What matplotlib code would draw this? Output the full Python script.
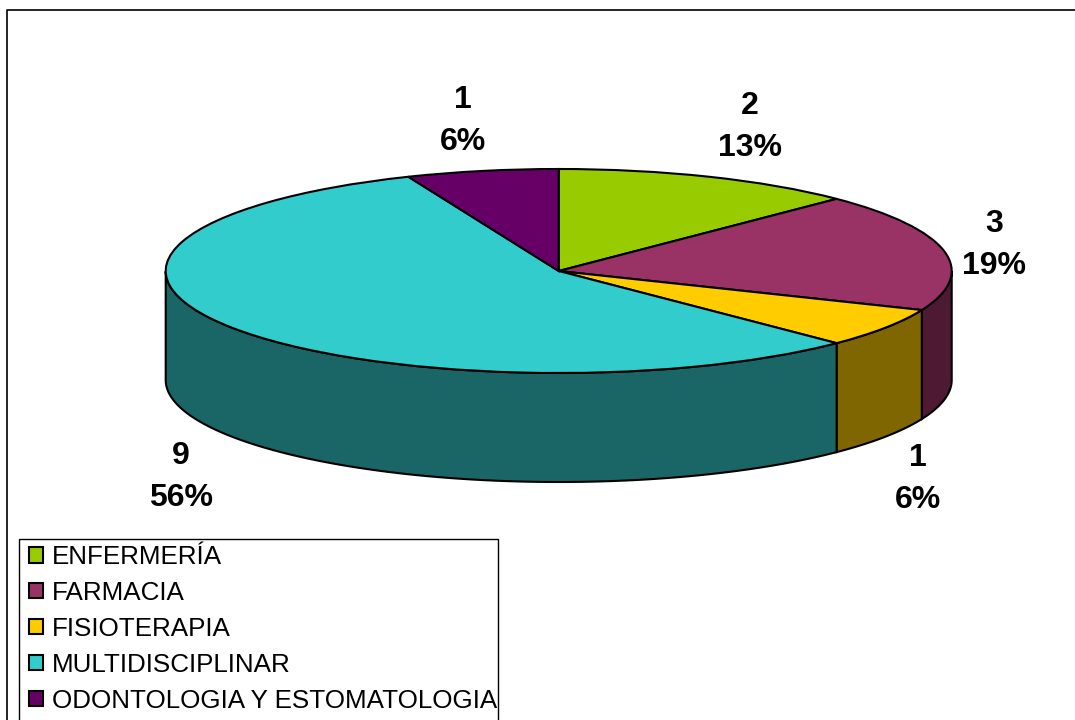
import numpy as np
import matplotlib
matplotlib.use("Agg")
import matplotlib.pyplot as plt
from matplotlib.patches import Rectangle

plt.rcParams['font.family'] = ['Liberation Sans', 'DejaVu Sans']

categories = ["ENFERMERÍA", "FARMACIA", "FISIOTERAPIA", "MULTIDISCIPLINAR",
              "ODONTOLOGIA Y ESTOMATOLOGIA"]
values = [2, 3, 1, 9, 1]
top_colors = ["#99CC00", "#993366", "#FFCC00", "#33CCCC", "#660066"]
side_colors = ["#4D6600", "#4D1933", "#806600", "#1A6666", "#330033"]

W, H = 1075, 720
cx, cy = 558.7, 271   # pie centre in pixels
rx, ry = 393, 102
depth = 109 / ry

fig = plt.figure(figsize=(W / 100, H / 100), dpi=100)
ax = fig.add_axes([0, 0, 1, 1])

wedges, _ = ax.pie(values, startangle=90, counterclock=False, radius=1,
                   colors=top_colors,
                   wedgeprops=dict(edgecolor="black", linewidth=1.5, zorder=3))
ax.set_aspect("auto")
ax.set_xlim(-cx / rx, (W - cx) / rx)
ax.set_ylim((cy - H) / ry, cy / ry)
ax.axis("off")

# side wall, only the part of each slice on the front half
for wedge, col in zip(wedges, side_colors):
    t = np.radians(np.linspace(wedge.theta1, wedge.theta2, 300))
    t = t[np.sin(t) <= 0]
    if len(t) == 0:
        continue
    xs = np.cos(t)
    ys = np.sin(t)
    ax.fill(np.r_[xs, xs[::-1]], np.r_[ys, ys[::-1] - depth],
            facecolor=col, edgecolor="black", linewidth=1.5, zorder=2)

# overlay in pixel coordinates for frame, labels and legend
px = fig.add_axes([0, 0, 1, 1])
px.set_xlim(0, W)
px.set_ylim(H, 0)
px.axis("off")

# outer border: only top and left show in the picture
px.plot([7, 7, W], [H, 9.5, 9.5], color="black", linewidth=1.2)

total = sum(values)
label_pos = [(750, 127), (994, 245), (918, 479), (181, 477), (463, 121)]
for v, (x, y) in zip(values, label_pos):
    pct = int(100 * v / total + 0.5)
    px.text(x, y, f"{v}\n{pct}%", ha="center", va="center", fontsize=23,
            fontweight="bold", linespacing=1.48, color="black")

# legend box runs off the bottom of the picture
px.add_patch(Rectangle((19, 538.5), 479, 200, fill=False, edgecolor="black",
                       linewidth=1.0))
leg = px.legend(wedges, categories, loc="upper left",
                bbox_to_anchor=(29 / W, 1 - 545 / H), borderaxespad=0,
                fontsize=18.7, frameon=False, borderpad=0, labelspacing=0.46,
                handlelength=0.54, handleheight=0.54, handletextpad=0.35)
for h in leg.legend_handles:
    h.set_linewidth(1.5)

fig.savefig("out.png", dpi=100)
